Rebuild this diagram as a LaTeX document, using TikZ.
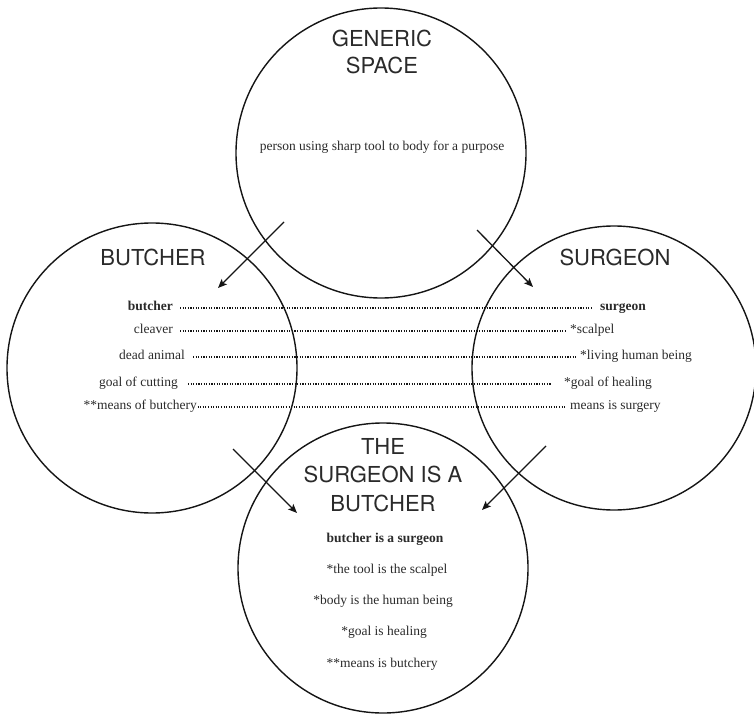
\documentclass[tikz,border=0pt]{standalone}
\usepackage{fontspec}
\setmainfont{Liberation Serif}
\newfontfamily\headfont{TeX Gyre Heros}
\usetikzlibrary{arrows.meta}
\definecolor{ink}{HTML}{2A2A2A}
\definecolor{rim}{HTML}{151515}

\begin{document}
\begin{tikzpicture}[x=1pt,y=-1pt,
  space/.style={circle, draw=rim, line width=1.4pt, minimum size=290pt, inner sep=0pt},
  spacetitle/.style={font=\headfont\fontsize{22}{27.5}\selectfont, text=ink, align=center, inner sep=0pt},
  item/.style={font=\fontsize{13.5}{16}\selectfont, text=ink, inner sep=0pt,
               text height=1.5ex, text depth=0.25ex},
  boldItem/.style={item, font=\bfseries\fontsize{13.5}{16}\selectfont},
  mapline/.style={draw=rim, line width=1.1pt, dash pattern=on 1.1pt off 1.5pt},
  projection/.style={draw=rim, line width=1.3pt, -{Stealth[length=9pt,width=7.5pt,inset=2pt]}}
]
\useasboundingbox (0,0) rectangle (754,714);

% the four mental spaces
\node[space] (generic) at (381,153) {};
\node[space] (butcher) at (152,368) {};
\node[space, minimum size=284pt] (surgeon) at (614,368) {};
\node[space] (blend)   at (383,568) {};

% space titles
\node[spacetitle] (genericT) at (382,52) {GENERIC\\SPACE};
\node[spacetitle] (butcherT) at (153,257) {BUTCHER};
\node[spacetitle] (surgeonT) at (615,257) {SURGEON};
\node[spacetitle, font=\headfont\fontsize{22}{28.5}\selectfont] (blendT) at (383,475)
  {THE\\SURGEON IS A\\BUTCHER};

% generic space content
\node[item] (gen1) at (382,148) {person using sharp tool to body for a purpose};

% input space 1: butcher
\node[boldItem, anchor=east] (b1) at (173,308) {butcher};
\node[item, anchor=east] (b2) at (173,331) {cleaver};
\node[item, anchor=east] (b3) at (185,357) {dead animal};
\node[item, anchor=east] (b4) at (178,384) {goal of cutting};
\node[item, anchor=east] (b5) at (197,407) {**means of butchery};

% input space 2: surgeon
\node[boldItem, anchor=west] (s1) at (600,308) {surgeon};
\node[item, anchor=west] (s2) at (570,331) {*scalpel};
\node[item, anchor=west] (s3) at (580,357) {*living human being};
\node[item, anchor=west] (s4) at (564,384) {*goal of healing};
\node[item, anchor=west] (s5) at (570,407) {means is surgery};

% cross-space mappings
\draw[mapline, shorten <=7pt,  shorten >=8pt]  (b1.east) -- (s1.west);
\draw[mapline, shorten <=7pt,  shorten >=5pt]  (b2.east) -- (s2.west);
\draw[mapline, shorten <=8pt,  shorten >=3pt]  (b3.east) -- (s3.west);
\draw[mapline, shorten <=10pt, shorten >=12pt] (b4.east) -- (s4.west);
\draw[mapline, shorten <=0.5pt, shorten >=5pt] (b5.east) -- (s5.west);

% blended space content
\node[boldItem] (m1) at (385,540) {butcher is a surgeon};
\node[item] (m2) at (387,571) {*the tool is the scalpel};
\node[item] (m3) at (383,602) {*body is the human being};
\node[item] (m4) at (384,633) {*goal is healing};
\node[item] (m5) at (382,665) {**means is butchery};

% projection arrows
\coordinate (genOutL) at (284,222);
\coordinate (butIn)   at (218,288);
\coordinate (genOutR) at (477,230);
\coordinate (surIn)   at (533,287);
\coordinate (butOut)  at (233,449);
\coordinate (surOut)  at (546,446);
\coordinate (blendInL) at (297,513);
\coordinate (blendInR) at (482,510);
\draw[projection] (genOutL) -- (butIn);
\draw[projection] (genOutR) -- (surIn);
\draw[projection] (butOut) -- (blendInL);
\draw[projection] (surOut) -- (blendInR);
\end{tikzpicture}
\end{document}
